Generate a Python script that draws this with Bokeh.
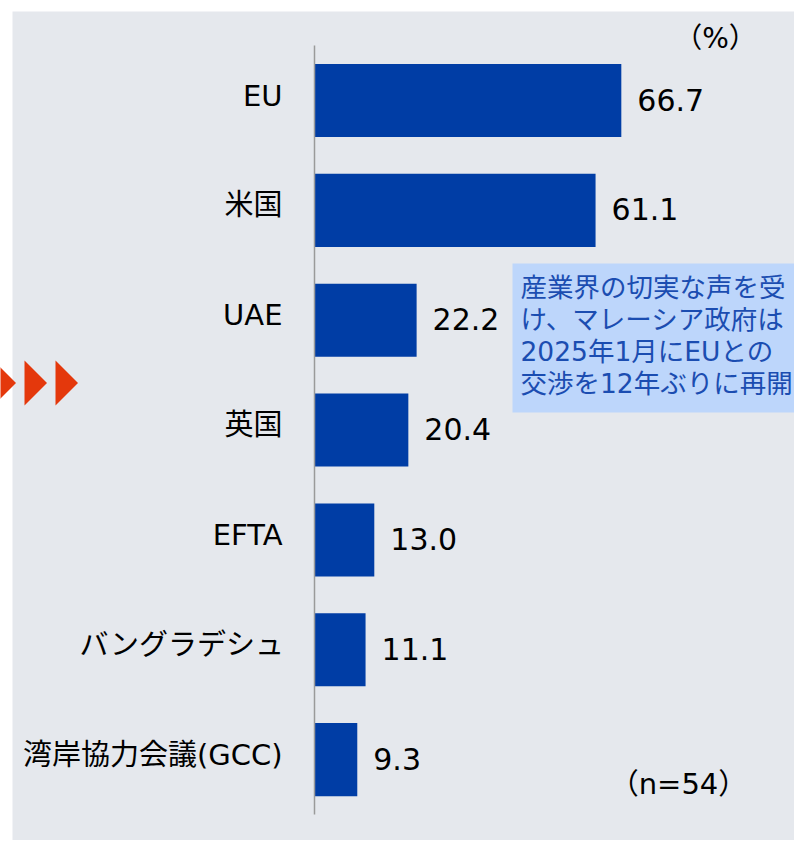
from bokeh.plotting import figure
from bokeh.models import Range1d
from bokeh.embed import file_html
from bokeh.resources import INLINE
from bokeh.core.properties import value

# ---- data ----
categories = ["EU", "米国", "UAE", "英国", "EFTA", "バングラデシュ", "湾岸協力会議(GCC)"]
values = [66.7, 61.1, 22.2, 20.4, 13.0, 11.1, 9.3]
value_labels = [f"{v:.1f}" for v in values]
unit_label = "（%）"
n_label = "（n=54）"
note_lines = ["産業界の切実な声を受", "け、マレーシア政府は", "2025年1月にEUとの", "交渉を12年ぶりに再開"]

# ---- style ----
FONT = "'DejaVu Sans', 'Noto Sans CJK JP'"
GRAY = "#E5E8ED"
BAR = "#003DA5"
NOTE_BG = "#BDD6FB"
NOTE_FG = "#1B4DB1"
ARROW = "#E4380C"

W, H = 794, 840
AXIS_X_PX = 314          # pixel column of the zero line
PX_PER_UNIT = 4.6        # pixels per percentage point
FIRST_ROW_PX = 100       # pixel row of the first category centre
ROW_PX = 769 / 7         # pixel pitch between categories


def xd(px):
    return (px - AXIS_X_PX) / PX_PER_UNIT


def yd(px):
    return (px - FIRST_ROW_PX) / ROW_PX


rows = list(range(len(categories)))

p = figure(width=W, height=H, output_backend="svg", toolbar_location=None,
           x_range=Range1d(xd(0), xd(W)), y_range=Range1d(yd(H), yd(0)),
           min_border=0, min_border_left=0, min_border_right=0,
           min_border_top=0, min_border_bottom=0)
p.background_fill_color = "#FFFFFF"
p.border_fill_color = "#FFFFFF"
p.outline_line_color = None
p.xgrid.visible = False
p.ygrid.visible = False
p.xaxis.visible = False
p.yaxis.visible = False

# grey panel
p.quad(left=[xd(12)], right=[xd(W + 10)], top=[yd(11)], bottom=[yd(H + 10)],
       fill_color=GRAY, line_color=None)

# arrows on the left edge
arrow_xs, arrow_ys = [], []
for left_px in (-7, 24, 55):
    arrow_xs.append([xd(left_px), xd(left_px + 22.5), xd(left_px)])
    arrow_ys.append([yd(360), yd(382.5), yd(405)])
p.patches(xs=arrow_xs, ys=arrow_ys, fill_color=ARROW, line_color=None)

# note box
p.quad(left=[xd(512)], right=[xd(W + 10)], top=[yd(263)], bottom=[yd(412)],
       fill_color=NOTE_BG, line_color=None)
p.text(x=[xd(520)] * 4, y=[yd(287), yd(319), yd(351), yd(383)], text=note_lines,
       text_baseline="middle", text_align="left", text_font=value(FONT),
       text_font_size="26.5px", text_color=NOTE_FG)

# bars
p.hbar(y=rows, left=0, right=values, height=0.665, fill_color=BAR, line_color=None)

# zero line (vertical axis line)
p.segment(x0=[0], x1=[0], y0=[-0.5], y1=[len(categories) - 0.5],
          line_color="#9A9A9A", line_width=1.5)

# category labels
p.text(x=[0] * len(categories), y=rows, text=categories, x_offset=-32, y_offset=-5,
       text_baseline="middle", text_align="right", text_font=value(FONT),
       text_font_size="29px", text_color="#000000")

# value labels
p.text(x=values, y=rows, text=value_labels, x_offset=16, y_offset=-1,
       text_baseline="middle", text_align="left", text_font=value(FONT),
       text_font_size="30px", text_color="#000000")

# unit and n labels
p.text(x=[xd(715)], y=[yd(38)], text=[unit_label], text_align="center",
       text_baseline="middle", text_font=value(FONT), text_font_size="28px",
       text_color="#000000")
p.text(x=[xd(678)], y=[yd(783)], text=[n_label], text_align="center",
       text_baseline="middle", text_font=value(FONT), text_font_size="29px",
       text_color="#000000")

open("out.html", "w").write(file_html(p, INLINE))
